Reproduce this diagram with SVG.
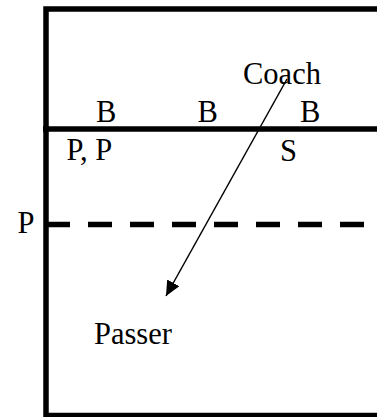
<svg xmlns="http://www.w3.org/2000/svg" width="377" height="417" viewBox="0 0 377 417">
  <style>
    .court { stroke: #000; stroke-width: 5.5; fill: none; stroke-linecap: butt; }
    .dash { stroke-dasharray: 24 18; }
    .pass { stroke: #000; stroke-width: 1.5; fill: none; }
  </style>
  <defs>
    <marker id="head" markerWidth="16" markerHeight="14" refX="15" refY="7" orient="auto" markerUnits="userSpaceOnUse">
      <path d="M0,0 L15,7 L0,14 Z" fill="#000"/>
    </marker>
  </defs>

  <!-- court outline, net and attack line -->
  <g id="court">
    <path class="court" d="M377,9 H46 V415.5 H377"/>
    <line class="court" x1="43" y1="129" x2="377" y2="129"/>
    <line class="court dash" x1="46" y1="224.5" x2="377" y2="224.5"/>
  </g>

  <!-- player and coach positions -->
  <g id="labels" font-family="Liberation Serif, DejaVu Serif, serif" font-size="30.5" fill="#000">
    <g id="coach"><text x="243" y="84">Coach</text></g>
    <g id="blocker-1"><text x="96" y="121.5">B</text></g>
    <g id="blocker-2"><text x="197.5" y="121.5">B</text></g>
    <g id="blocker-3"><text x="300" y="121.5">B</text></g>
    <g id="passers-front"><text x="66.5" y="160">P, P</text></g>
    <g id="setter"><text x="280" y="160.5">S</text></g>
    <g id="passer-side"><text x="17.5" y="232.5">P</text></g>
    <g id="passer"><text x="94" y="343.5">Passer</text></g>
  </g>

  <!-- ball path from coach to passer -->
  <g id="connectors">
    <line class="pass" x1="287" y1="79" x2="166" y2="296" marker-end="url(#head)"/>
  </g>
</svg>
